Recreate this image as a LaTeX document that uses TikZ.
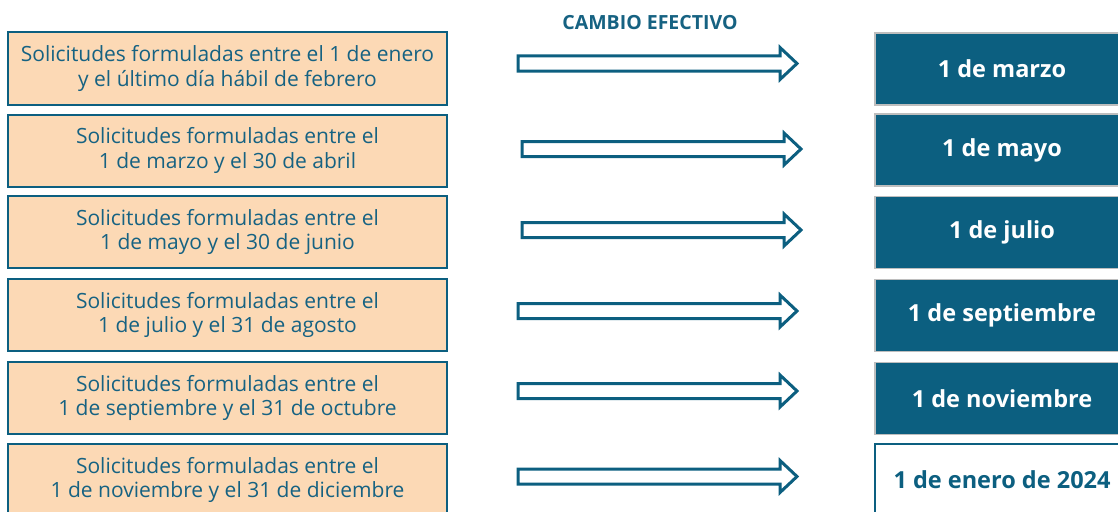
\documentclass[tikz,border=0pt]{standalone}
\usepackage{fontspec}
\setmainfont{Open Sans}
\definecolor{peach}{RGB}{252,217,181}
\definecolor{teal}{RGB}{12,95,128}
\definecolor{tealtxt}{RGB}{22,98,130}
\definecolor{grayb}{RGB}{190,190,190}
\begin{document}
\begin{tikzpicture}[x=1pt,y=-1pt,
  leftbox/.style={draw=teal, line width=2pt, fill=peach, text=tealtxt, align=center,
    minimum width=439pt, minimum height=72pt, inner sep=0pt,
    font=\fontsize{21}{24.5}\selectfont},
  rightbox/.style={draw=grayb, line width=1.2pt, fill=teal, text=white,
    minimum width=254pt, minimum height=72pt, inner sep=0pt,
    font=\fontsize{23.5}{27}\bfseries\selectfont},
  lastbox/.style={draw=teal, line width=1.5pt, fill=white, text=teal,
    minimum width=254pt, minimum height=72pt, inner sep=0pt,
    font=\fontsize{23.5}{27}\bfseries\selectfont},
  arrowline/.style={draw=teal, line width=3pt, fill=white, line join=miter},
  blockarrow/.pic={\draw[arrowline] (0,-7.5) -- (262,-7.5) -- (262,-16) -- (279,0) -- (262,16) -- (262,7.5) -- (0,7.5) -- cycle;}
]
\useasboundingbox (0,0) rectangle (1118,511);
\node[font=\fontsize{19.5}{22}\bfseries\selectfont, text=tealtxt] (title) at (650,23) {CAMBIO EFECTIVO};

\node[leftbox] (l1) at (227.5,68.5) {Solicitudes formuladas entre el 1 de enero\\y el último día hábil de febrero};
\node[leftbox] (l2) at (227.5,150.5) {Solicitudes formuladas entre el\\1 de marzo y el 30 de abril};
\node[leftbox] (l3) at (227.5,232) {Solicitudes formuladas entre el\\1 de mayo y el 30 de junio};
\node[leftbox] (l4) at (227.5,315) {Solicitudes formuladas entre el\\1 de julio y el 31 de agosto};
\node[leftbox] (l5) at (227.5,398) {Solicitudes formuladas entre el\\1 de septiembre y el 31 de octubre};
\node[leftbox] (l6) at (227.5,480) {Solicitudes formuladas entre el\\1 de noviembre y el 31 de diciembre};

\node[rightbox] (r1) at (1002,69) {1 de marzo};
\node[rightbox] (r2) at (1002,150) {1 de mayo};
\node[rightbox] (r3) at (1002,232.5) {1 de julio};
\node[rightbox] (r4) at (1002,315.5) {1 de septiembre};
\node[rightbox] (r5) at (1002,398.5) {1 de noviembre};
\node[lastbox] (r6) at (1002,480) {1 de enero de 2024};

\pic at (518,63.5) {blockarrow};
\pic at (522,149) {blockarrow};
\pic at (522,230) {blockarrow};
\pic at (518,311) {blockarrow};
\pic at (518,391) {blockarrow};
\pic at (518,476.5) {blockarrow};
\end{tikzpicture}
\end{document}
